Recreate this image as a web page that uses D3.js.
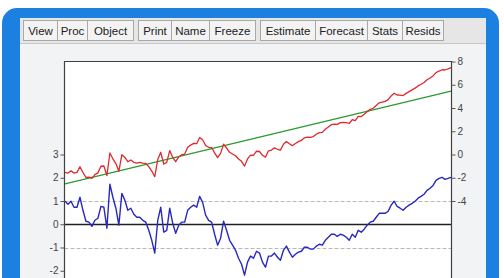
<!DOCTYPE html>
<html>
  <head>
    <meta charset="utf-8">
    <title>Actual, Fitted, Residual</title>
    <script src="https://cdn.jsdelivr.net/npm/d3@7"></script>
    <style>
      body { margin: 0; background: #ffffff; }
      svg text { font-family: "Liberation Sans", Arial, sans-serif; }
    </style>
  </head>
  <body>
    <div id="chart"></div>
    <script>
      // toolbar groups
      var buttons = [["View", "Proc", "Object"], ["Print", "Name", "Freeze"], ["Estimate", "Forecast", "Stats", "Resids"]];

      // residual (left axis)
      var residual = [0.99, 0.86, 0.99, 0.73, 0.73, 1.16, 0.60, 0.13, 0.09, -0.09,
        0.17, 0.26, 0.77, 0.73, -0.17, 1.72, 1.16, 0.69, -0.04, 1.33,
        1.03, 0.60, 0.69, 0.43, 0.30, 0.30, 0.17, 0.09, -0.26, -0.69,
        -1.24, 0.17, 0.73, -0.34, -0.26, 0.69, 0.04, -0.39, -0.04, 0.09,
        0.09, 0.60, 0.73, 0.82, 0.73, 1.20, 0.94, 0.39, 0.17, 0.09,
        -0.43, -0.90, -0.60, 0.13, -0.26, -0.69, -0.90, -1.12, -1.46, -1.72,
        -2.19, -1.63, -1.37, -1.46, -1.16, -1.24, -1.63, -1.85, -1.37, -1.37,
        -1.24, -1.42, -1.55, -1.12, -0.94, -1.20, -1.42, -1.29, -1.20, -1.16,
        -0.99, -0.99, -1.07, -1.07, -0.94, -0.86, -0.90, -0.69, -0.56, -0.43,
        -0.43, -0.52, -0.43, -0.47, -0.56, -0.69, -0.43, -0.56, -0.26, -0.34,
        -0.21, -0.04, 0.09, 0.13, 0.30, 0.47, 0.47, 0.47, 0.56, 0.82,
        0.99, 0.77, 0.69, 0.60, 0.73, 0.82, 0.90, 0.99, 1.12, 1.20,
        1.29, 1.46, 1.55, 1.67, 1.89, 1.97, 2.02, 1.93, 1.97, 2.02];

      // actual (right axis), red line
      var actual = [-1.53, -1.60, -1.41, -1.60, -1.54, -1.05, -1.55, -1.96, -1.94, -2.05,
        -1.73, -1.58, -1.01, -0.99, -1.82, 0.13, -0.37, -0.78, -1.45, -0.02,
        -0.25, -0.62, -0.47, -0.67, -0.74, -0.67, -0.74, -0.76, -1.05, -1.42,
        -1.90, -0.43, 0.19, -0.82, -0.68, 0.34, -0.25, -0.62, -0.21, -0.02,
        0.04, 0.62, 0.81, 0.96, 0.93, 1.46, 1.27, 0.78, 0.62, 0.60,
        0.14, -0.27, 0.10, 0.89, 0.56, 0.19, 0.04, -0.11, -0.39, -0.59,
        -1.00, -0.38, -0.05, -0.08, 0.28, 0.26, -0.07, -0.23, 0.32, 0.38,
        0.57, 0.45, 0.38, 0.88, 1.12, 0.92, 0.76, 0.95, 1.11, 1.21,
        1.44, 1.50, 1.48, 1.54, 1.74, 1.88, 1.90, 2.17, 2.36, 2.56,
        2.62, 2.59, 2.74, 2.76, 2.74, 2.67, 2.99, 2.92, 3.28, 3.26,
        3.46, 3.69, 3.88, 3.98, 4.21, 4.45, 4.51, 4.57, 4.72, 5.04,
        5.27, 5.12, 5.10, 5.07, 5.26, 5.41, 5.56, 5.71, 5.90, 6.04,
        6.19, 6.43, 6.58, 6.76, 7.04, 7.18, 7.29, 7.27, 7.37, 7.48];

      // fitted (right axis), green straight line: first and last observation
      var fittedObs = [0, 129];
      var fitted = [-2.52, 5.46];

      var leftTicks = [-2, -1, 0, 1, 2, 3];
      var rightTicks = [-4, -2, 0, 2, 4, 6, 8];
      var bandLevels = [-1, 1];

      var width = 504, height = 278;
      var svg = d3.select("#chart").append("svg")
        .attr("width", width)
        .attr("height", height);

      // window frame
      svg.append("rect").attr("x", 2).attr("y", 8).attr("width", 497).attr("height", 320)
        .attr("rx", 15).attr("fill", "#1b80e0");
      svg.append("rect").attr("x", 20).attr("y", 18).attr("width", 466).attr("height", 300)
        .attr("fill", "#f2f3f5");
      svg.append("rect").attr("x", 20).attr("y", 18).attr("width", 466).attr("height", 25)
        .attr("fill", "#e6e6e6");
      svg.append("line").attr("x1", 20).attr("x2", 486).attr("y1", 43.5).attr("y2", 43.5)
        .attr("stroke", "#c8c8c8");

      // toolbar buttons
      var buttonWidths = { View: 34, Proc: 30, Object: 46, Print: 33, Name: 38, Freeze: 46,
        Estimate: 55, Forecast: 52, Stats: 35, Resids: 41 };
      var groupStarts = [23, 138, 260];
      buttons.forEach(function(group, gi) {
        var bx = groupStarts[gi];
        group.forEach(function(label) {
          var w = buttonWidths[label];
          var b = svg.append("g").attr("transform", "translate(" + bx + ",20)");
          b.append("rect")
            .attr("x", 0.5).attr("y", 0.5).attr("width", w).attr("height", 20)
            .attr("fill", "#f3f3f3").attr("stroke", "#a8a8a8");
          b.append("text")
            .attr("x", w / 2 + 0.5).attr("y", 14.5)
            .attr("text-anchor", "middle")
            .attr("font-size", 11.5)
            .attr("fill", "#222")
            .text(label);
          bx += w;
        });
      });

      // plot
      var pLeft = 64.5, pRight = 451.5, pTop = 61.5, pBottom = 294;
      var x = d3.scaleLinear().domain([0, residual.length - 1]).range([pLeft + 0.5, pRight - 0.5]);
      var yL = d3.scaleLinear().domain([-3, 7]).range([pBottom, pTop]);
      var yR = d3.scaleLinear().domain([-12, 8]).range([pBottom, pTop]);

      svg.append("rect").attr("x", pLeft).attr("y", pTop)
        .attr("width", pRight - pLeft).attr("height", pBottom - pTop)
        .attr("fill", "#ffffff");

      svg.selectAll(".band").data(bandLevels).enter().append("line")
        .attr("class", "band")
        .attr("x1", pLeft).attr("x2", pRight)
        .attr("y1", function(d) { return Math.round(yL(d)) + 0.5; })
        .attr("y2", function(d) { return Math.round(yL(d)) + 0.5; })
        .attr("stroke", "#b8b8b8").attr("stroke-dasharray", "4,2");

      svg.append("line")
        .attr("x1", pLeft).attr("x2", pRight)
        .attr("y1", Math.round(yL(0)) + 0.5).attr("y2", Math.round(yL(0)) + 0.5)
        .attr("stroke", "#202020").attr("stroke-width", 1.3);

      svg.append("path").datum(fitted)
        .attr("fill", "none").attr("stroke", "#2a9a30").attr("stroke-width", 1.3)
        .attr("d", d3.line()
          .x(function(d, i) { return x(fittedObs[i]); })
          .y(function(d) { return yR(d); }));

      svg.append("path").datum(actual)
        .attr("fill", "none").attr("stroke", "#e2282c").attr("stroke-width", 1.3)
        .attr("stroke-linejoin", "round")
        .attr("d", d3.line()
          .x(function(d, i) { return x(i); })
          .y(function(d) { return yR(d); }));

      svg.append("path").datum(residual)
        .attr("fill", "none").attr("stroke", "#2828c0").attr("stroke-width", 1.4)
        .attr("stroke-linejoin", "round")
        .attr("d", d3.line()
          .x(function(d, i) { return x(i); })
          .y(function(d) { return yL(d); }));

      // frame
      svg.append("path")
        .attr("d", "M" + pLeft + "," + pBottom + "V" + pTop + "H" + pRight + "V" + pBottom)
        .attr("fill", "none").attr("stroke", "#404040").attr("stroke-width", 1.2);

      var fmt = function(d) { return String(d); };
      var axL = svg.append("g").attr("transform", "translate(" + pLeft + ",0)")
        .call(d3.axisLeft(yL).tickValues(leftTicks).tickSize(4).tickPadding(2).tickFormat(fmt));
      var axR = svg.append("g").attr("transform", "translate(" + pRight + ",0)")
        .call(d3.axisRight(yR).tickValues(rightTicks).tickSize(4).tickPadding(2).tickFormat(fmt));
      [axL, axR].forEach(function(ax) {
        ax.select(".domain").remove();
        ax.selectAll("line").attr("stroke", "#555");
        ax.selectAll("text").attr("font-size", 10)
          .attr("font-family", "'Liberation Sans', Arial, sans-serif").attr("fill", "#444");
      });
    </script>
  </body>
</html>
